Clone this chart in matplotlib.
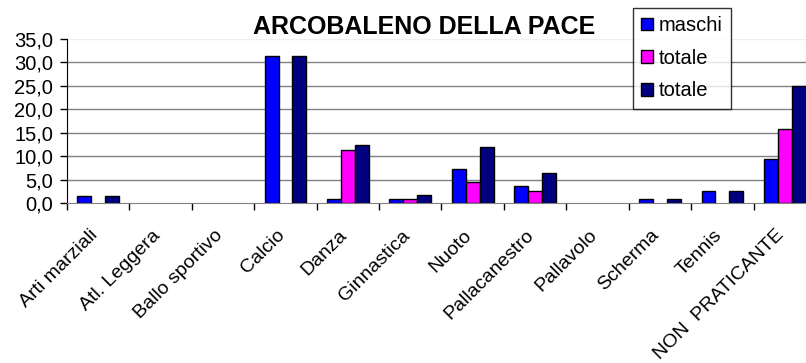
import matplotlib
matplotlib.use("Agg")
import matplotlib.pyplot as plt
import numpy as np
from matplotlib.patches import Rectangle

plt.rcParams['font.family'] = ['Liberation Sans', 'DejaVu Sans']

categories = ["Arti marziali", "Atl. Leggera", "Ballo sportivo", "Calcio", "Danza",
              "Ginnastica", "Nuoto", "Pallacanestro", "Pallavolo", "Scherma",
              "Tennis", "NON  PRATICANTE"]
maschi = [1.6, 0, 0, 31.4, 0.9, 0.9, 7.3, 3.7, 0, 0.9, 2.6, 9.4]
femmine = [0, 0, 0, 0, 11.3, 0.9, 4.6, 2.6, 0, 0, 0, 15.7]
totale = [1.6, 0, 0, 31.4, 12.3, 1.7, 12.0, 6.4, 0, 0.9, 2.6, 25.0]
series_labels = ["maschi", "totale", "totale"]
colors = ["#0000FF", "#FF00FF", "#000080"]
yticks = [0, 5, 10, 15, 20, 25, 30, 35]

W, H = 806, 363
fig = plt.figure(figsize=(W / 100, H / 100), dpi=100)
x0, x1 = 67, 816
ytop, ybot = 38.7, 203.3
ax = fig.add_axes([x0 / W, (H - ybot) / H, (x1 - x0) / W, (ybot - ytop) / H])

n = len(categories)
x = np.arange(n)
w = 1 / 4.5
for i, (vals, c) in enumerate(zip([maschi, femmine, totale], colors)):
    vals_arr = np.array(vals, dtype=float)
    mask = vals_arr > 0
    ax.bar(x[mask] + (i - 1) * w, vals_arr[mask], width=w, color=c,
           edgecolor="black", linewidth=1.0, zorder=3)

ax.set_xlim(-0.5, n - 0.5)
ax.set_ylim(0, 35)
ax.set_yticks(yticks)
ax.set_yticklabels([f"{v:.1f}".replace(".", ",") for v in yticks], fontsize=14.5)
for v in yticks[1:-1]:
    ax.axhline(v, color="#808080", linewidth=1.0, zorder=1)
ax.axhline(35, color="#eeeeee", linewidth=1.0, zorder=1)

ax.set_xticks(np.arange(-0.5, n, 1.0))
ax.set_xticklabels([])
ax.tick_params(axis="x", length=5, width=1, color="black", direction="out")
ax.tick_params(axis="y", length=5, width=1, color="black", direction="out", pad=5)
for s in ["top", "right"]:
    ax.spines[s].set_visible(False)
ax.spines["left"].set_color("black")
ax.spines["bottom"].set_color("#808080")
ax.spines["bottom"].set_zorder(4)

for i, lab in enumerate(categories):
    ax.text(i - 0.15, -5.0, lab, rotation=45, ha="right", va="top",
            rotation_mode="anchor", fontsize=14)

fig.text(424.5 / W, 1 - 27 / H, "ARCOBALENO DELLA PACE", ha="center", va="center",
         fontsize=18, fontweight="bold")

handles = [Rectangle((0, 0), 1, 1, facecolor=c, edgecolor="black", linewidth=1.0)
           for c in colors]
leg = fig.legend(handles, series_labels, loc="upper left",
                 bbox_to_anchor=(633 / W, 1 - 8 / H), fontsize=14.5,
                 frameon=True, fancybox=False, shadow=False,
                 handlelength=0.6, handleheight=0.6, handletextpad=0.3,
                 labelspacing=0.68, borderpad=0.4, borderaxespad=0)
leg.get_frame().set_edgecolor("black")
leg.get_frame().set_linewidth(1.0)

fig.savefig("out.png", dpi=100)
